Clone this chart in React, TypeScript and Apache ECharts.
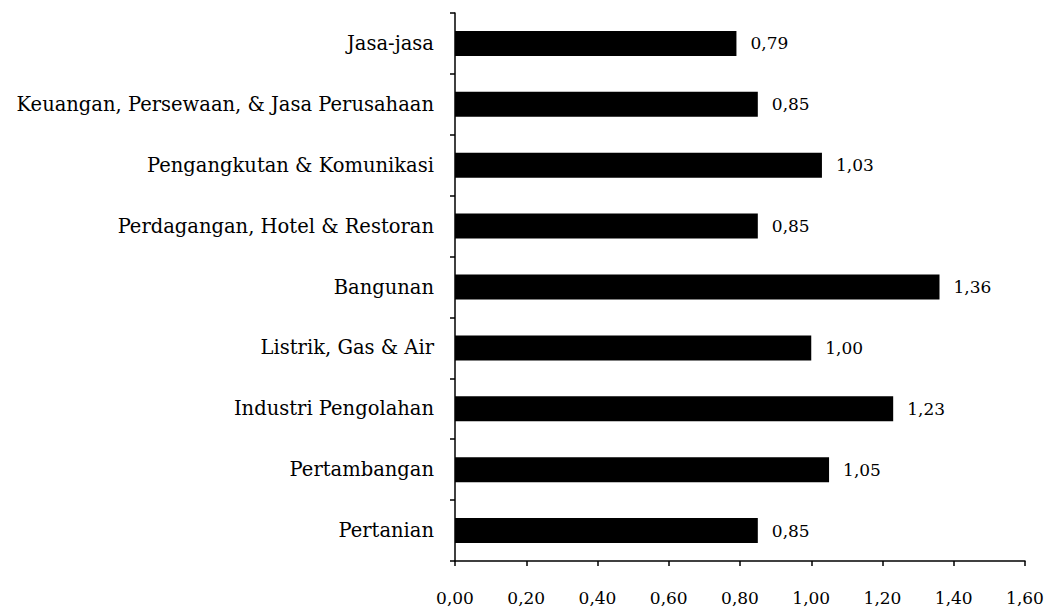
import React, { useEffect, useRef } from "react";
import * as echarts from "echarts";

const categories = [
  "Pertanian",
  "Pertambangan",
  "Industri Pengolahan",
  "Listrik, Gas & Air",
  "Bangunan",
  "Perdagangan, Hotel & Restoran",
  "Pengangkutan & Komunikasi",
  "Keuangan, Persewaan, & Jasa Perusahaan",
  "Jasa-jasa",
];
const values = [0.85, 1.05, 1.23, 1.0, 1.36, 0.85, 1.03, 0.85, 0.79];
const axisMin = 0;
const axisMax = 1.6;
const axisStep = 0.2;

const fmt = (v: number) => v.toFixed(2).replace(".", ",");
const FONT = "DejaVu Serif";

export default function App() {
  const ref = useRef<HTMLDivElement>(null);
  useEffect(() => {
    if (!ref.current) return;
    const chart = echarts.init(ref.current, null, { renderer: "svg" });
    chart.setOption({
      animation: false,
      backgroundColor: "#ffffff",
      grid: {
        left: 447,
        right: 31,
        top: 5,
        bottom: 48,
        containLabel: false,
        outerBoundsMode: "none",
      },
      xAxis: {
        type: "value",
        min: axisMin,
        max: axisMax,
        interval: axisStep,
        axisLine: { show: true, lineStyle: { color: "#000", width: 1.5 } },
        axisTick: { show: true, length: 5, lineStyle: { color: "#000", width: 1.5 } },
        splitLine: { show: false },
        axisLabel: {
          formatter: (v: number) => fmt(v),
          color: "#000",
          fontFamily: FONT,
          fontSize: 17,
          margin: 28,
        },
      },
      yAxis: {
        type: "category",
        data: categories,
        axisLine: { show: true, lineStyle: { color: "#000", width: 1.5 } },
        axisTick: { show: true, length: 5, alignWithLabel: false, lineStyle: { color: "#000", width: 1.5 } },
        axisLabel: {
          color: "#000",
          fontFamily: FONT,
          fontSize: 19.5,
          margin: 21,
        },
      },
      series: [
        {
          type: "bar",
          data: values,
          barWidth: 25,
          itemStyle: { color: "#000" },
          label: {
            show: true,
            position: "right",
            distance: 14,
            color: "#000",
            fontFamily: FONT,
            fontSize: 17,
            formatter: (p: any) => fmt(p.value),
          },
        },
      ],
    });
    return () => chart.dispose();
  }, []);
  return <div ref={ref} style={{ width: 1048, height: 601 }} />;
}
